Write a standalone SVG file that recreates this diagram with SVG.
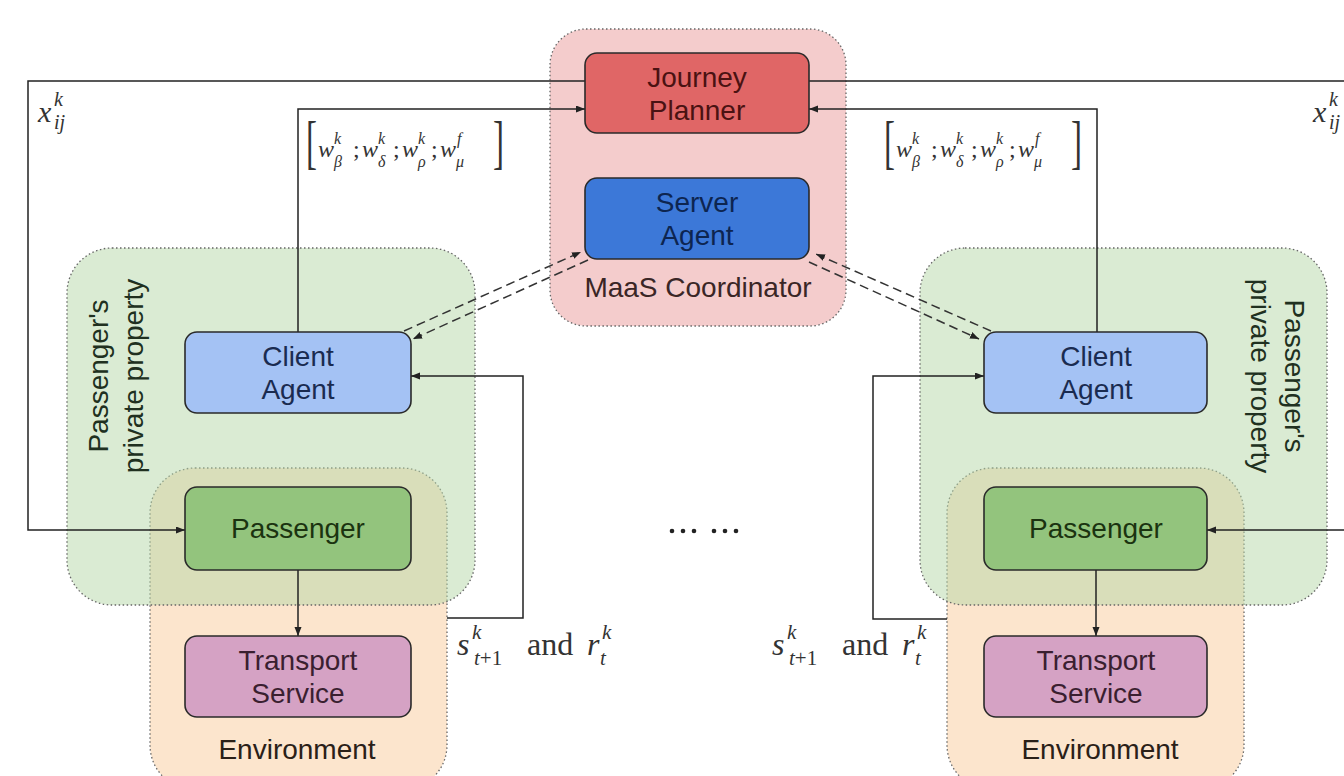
<svg xmlns="http://www.w3.org/2000/svg" width="1344" height="776" viewBox="0 0 1344 776">
<defs>
<marker id="arr" markerUnits="userSpaceOnUse" markerWidth="10" markerHeight="8" refX="9" refY="3.5" orient="auto">
<path d="M0,0 L9,3.5 L0,7 z" fill="#222"/>
</marker>
<style>
.grp{stroke:#666;stroke-width:1.3;stroke-dasharray:1.5,2.5}
.node{stroke:#2a2a2a;stroke-width:1.6}
.lbl{font-family:"Liberation Sans",Arial,sans-serif;font-size:28px;text-anchor:middle}
.con{fill:none;stroke:#222;stroke-width:1.5}
.dash{fill:none;stroke:#333;stroke-width:1.5;stroke-dasharray:9,5}
.m{font-family:"Liberation Serif","Times New Roman",serif;fill:#333}
.mi{font-style:italic}
</style>
</defs>
<rect width="1344" height="776" fill="#ffffff"/>

<!-- group regions -->
<g id="maas-coordinator">
<rect class="grp" x="550" y="29" width="296" height="297" rx="36" fill="#f4cccc"/>
<text class="lbl" x="698" y="297" fill="#3a2626">MaaS Coordinator</text>
</g>
<g id="environment-left">
<rect class="grp" x="150" y="468" width="297" height="322" rx="45" fill="rgba(249,203,156,0.5)"/>
<text class="lbl" x="297" y="759" fill="#2a2018">Environment</text>
</g>
<g id="environment-right">
<rect class="grp" x="947" y="468" width="297" height="322" rx="45" fill="rgba(249,203,156,0.5)"/>
<text class="lbl" x="1100" y="759" fill="#2a2018">Environment</text>
</g>
<g id="private-left">
<rect class="grp" x="67" y="248" width="408" height="357" rx="45" fill="rgba(182,215,168,0.5)"/>
<text class="lbl" transform="translate(108,376) rotate(-90)" fill="#203020">Passenger's</text>
<text class="lbl" transform="translate(143,376) rotate(-90)" fill="#203020">private property</text>
</g>
<g id="private-right">
<rect class="grp" x="920" y="248" width="407" height="357" rx="45" fill="rgba(182,215,168,0.5)"/>
<text class="lbl" transform="translate(1285,376) rotate(90)" fill="#203020">Passenger's</text>
<text class="lbl" transform="translate(1251,376) rotate(90)" fill="#203020">private property</text>
</g>

<!-- connectors -->
<g id="connectors">
<path class="con" d="M585,81 H28 V530 H185" marker-end="url(#arr)"/>
<path class="con" d="M809,81 H1350 V530 H1207" marker-end="url(#arr)"/>
<path class="con" d="M298,332 V109 H585" marker-end="url(#arr)"/>
<path class="con" d="M1097,332 V109 H809" marker-end="url(#arr)"/>
<path class="con" d="M447,618 H523 V376 H411" marker-end="url(#arr)"/>
<path class="con" d="M947,619 H873 V376 H984" marker-end="url(#arr)"/>
<path class="con" d="M298,570 V636" marker-end="url(#arr)"/>
<path class="con" d="M1096,570 V636" marker-end="url(#arr)"/>
<path class="dash" d="M404,331 L581,252" marker-end="url(#arr)"/>
<path class="dash" d="M588,260 L413,339" marker-end="url(#arr)"/>
<path class="dash" d="M991,331 L816,254" marker-end="url(#arr)"/>
<path class="dash" d="M809,262 L979,339" marker-end="url(#arr)"/>
</g>

<!-- nodes -->
<g id="journey-planner">
<rect class="node" x="585" y="53" width="224" height="80" rx="12" fill="#e06666"/>
<text class="lbl" x="697" y="87" fill="#4a1212">Journey</text>
<text class="lbl" x="697" y="120" fill="#4a1212">Planner</text>
</g>
<g id="server-agent">
<rect class="node" x="585" y="178" width="224" height="81" rx="12" fill="#3c78d8"/>
<text class="lbl" x="697" y="212" fill="#0d2550">Server</text>
<text class="lbl" x="697" y="245" fill="#0d2550">Agent</text>
</g>
<g id="client-agent-left">
<rect class="node" x="185" y="332" width="226" height="81" rx="12" fill="#a4c2f4"/>
<text class="lbl" x="298" y="366" fill="#1a2b50">Client</text>
<text class="lbl" x="298" y="399" fill="#1a2b50">Agent</text>
</g>
<g id="client-agent-right">
<rect class="node" x="984" y="332" width="223" height="81" rx="12" fill="#a4c2f4"/>
<text class="lbl" x="1096" y="366" fill="#1a2b50">Client</text>
<text class="lbl" x="1096" y="399" fill="#1a2b50">Agent</text>
</g>
<g id="passenger-left">
<rect class="node" x="185" y="487" width="226" height="83" rx="12" fill="#93c47d"/>
<text class="lbl" x="298" y="538" fill="#1b3310">Passenger</text>
</g>
<g id="passenger-right">
<rect class="node" x="984" y="487" width="223" height="83" rx="12" fill="#93c47d"/>
<text class="lbl" x="1096" y="538" fill="#1b3310">Passenger</text>
</g>
<g id="transport-left">
<rect class="node" x="185" y="636" width="226" height="81" rx="12" fill="#d5a2c4"/>
<text class="lbl" x="298" y="670" fill="#3a1f30">Transport</text>
<text class="lbl" x="298" y="703" fill="#3a1f30">Service</text>
</g>
<g id="transport-right">
<rect class="node" x="984" y="636" width="223" height="81" rx="12" fill="#d5a2c4"/>
<text class="lbl" x="1096" y="670" fill="#3a1f30">Transport</text>
<text class="lbl" x="1096" y="703" fill="#3a1f30">Service</text>
</g>

<!-- math labels -->
<g id="label-x-left" class="m">
<text class="mi" x="38" y="122" font-size="30">x</text>
<text class="mi" x="54" y="106" font-size="20">k</text>
<text class="mi" x="54" y="129" font-size="20">ij</text>
</g>
<g id="label-x-right" class="m">
<text class="mi" x="1313" y="122" font-size="30">x</text>
<text class="mi" x="1329" y="106" font-size="20">k</text>
<text class="mi" x="1329" y="129" font-size="20">ij</text>
</g>
<g id="label-w-left" class="m">
<text transform="translate(306,162) scale(0.55,1)" font-size="60">[</text>
<text class="mi" x="318" y="157" font-size="24">w</text>
<text class="mi" x="334" y="144" font-size="16">k</text>
<text class="mi" x="334" y="167" font-size="16">β</text>
<text x="353" y="157" font-size="24">;</text>
<text class="mi" x="362" y="157" font-size="24">w</text>
<text class="mi" x="378" y="144" font-size="16">k</text>
<text class="mi" x="378" y="167" font-size="16">δ</text>
<text x="393" y="157" font-size="24">;</text>
<text class="mi" x="402" y="157" font-size="24">w</text>
<text class="mi" x="418" y="144" font-size="16">k</text>
<text class="mi" x="418" y="167" font-size="16">ρ</text>
<text x="431" y="157" font-size="24">;</text>
<text class="mi" x="440" y="157" font-size="24">w</text>
<text class="mi" x="457" y="144" font-size="16">f</text>
<text class="mi" x="456" y="167" font-size="16">μ</text>
<text transform="translate(493,162) scale(0.55,1)" font-size="60">]</text>
</g>
<g id="label-w-right" class="m" transform="translate(578,0)">
<text transform="translate(306,162) scale(0.55,1)" font-size="60">[</text>
<text class="mi" x="318" y="157" font-size="24">w</text>
<text class="mi" x="334" y="144" font-size="16">k</text>
<text class="mi" x="334" y="167" font-size="16">β</text>
<text x="353" y="157" font-size="24">;</text>
<text class="mi" x="362" y="157" font-size="24">w</text>
<text class="mi" x="378" y="144" font-size="16">k</text>
<text class="mi" x="378" y="167" font-size="16">δ</text>
<text x="393" y="157" font-size="24">;</text>
<text class="mi" x="402" y="157" font-size="24">w</text>
<text class="mi" x="418" y="144" font-size="16">k</text>
<text class="mi" x="418" y="167" font-size="16">ρ</text>
<text x="431" y="157" font-size="24">;</text>
<text class="mi" x="440" y="157" font-size="24">w</text>
<text class="mi" x="457" y="144" font-size="16">f</text>
<text class="mi" x="456" y="167" font-size="16">μ</text>
<text transform="translate(493,162) scale(0.55,1)" font-size="60">]</text>
</g>
<g id="label-s-left" class="m">
<text class="mi" x="457" y="655" font-size="32">s</text>
<text class="mi" x="472" y="639" font-size="21">k</text>
<text x="474" y="665" font-size="21"><tspan font-style="italic">t</tspan>+1</text>
<text x="527" y="655" font-size="32">and</text>
<text class="mi" x="587" y="655" font-size="32">r</text>
<text class="mi" x="602" y="639" font-size="21">k</text>
<text class="mi" x="600" y="665" font-size="21">t</text>
</g>
<g id="label-s-right" class="m" transform="translate(315,0)">
<text class="mi" x="457" y="655" font-size="32">s</text>
<text class="mi" x="472" y="639" font-size="21">k</text>
<text x="474" y="665" font-size="21"><tspan font-style="italic">t</tspan>+1</text>
<text x="527" y="655" font-size="32">and</text>
<text class="mi" x="587" y="655" font-size="32">r</text>
<text class="mi" x="602" y="639" font-size="21">k</text>
<text class="mi" x="600" y="665" font-size="21">t</text>
</g>
<g id="ellipsis" fill="#222">
<circle cx="672" cy="531" r="2.3"/><circle cx="683" cy="531" r="2.3"/><circle cx="694" cy="531" r="2.3"/>
<circle cx="714" cy="531" r="2.3"/><circle cx="725" cy="531" r="2.3"/><circle cx="736" cy="531" r="2.3"/>
</g>
</svg>
